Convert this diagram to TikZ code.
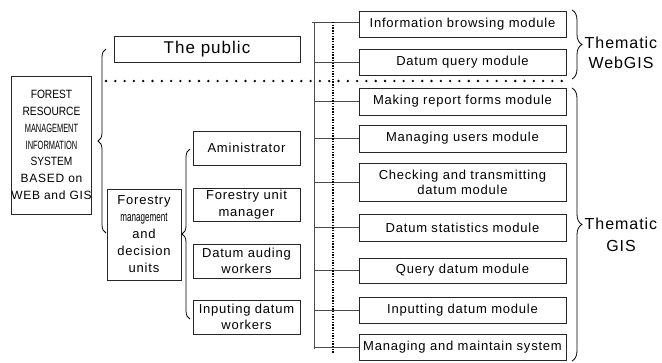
\documentclass[tikz,border=0pt]{standalone}
\usepackage{fontspec}
\setmainfont{Liberation Sans}[LetterSpace=6]
\newfontfamily\narrowA{Liberation Sans}[FakeStretch=0.62]
\newfontfamily\narrowB{Liberation Sans}[FakeStretch=0.85]
\usetikzlibrary{decorations.pathreplacing}
\begin{document}
\begin{tikzpicture}[x=1pt,y=-1pt,
  box/.style={draw=black!85, line width=0.8pt, rectangle, inner sep=0pt, align=center,
    font=\fontsize{13}{16.5}\selectfont},
  modbox/.style={box, minimum width=207pt, minimum height=26pt},
  rolebox/.style={box, minimum width=107pt, minimum height=34pt},
  tie/.style={draw=black!70, line width=0.9pt},
  brc/.style={draw=black, line width=0.8pt, decorate, decoration={brace, amplitude=#1}},
  bigdots/.style={draw=black, line width=2.6pt, line cap=round, dash pattern=on 0pt off 9.3pt},
  smalldots/.style={draw=black, line width=2pt, dash pattern=on 1.4pt off 1.3pt},
  theme/.style={align=center, inner sep=0pt, font=\fontsize{16}{20}\selectfont}]
\useasboundingbox (0,0) rectangle (662,362);

% left system box
\node[box, minimum width=79pt, minimum height=138pt, font=\fontsize{12}{16.8}\selectfont] (sys) at (51.5,145)
  {{\narrowB FOREST}\\{\narrowB RESOURCE}\\{\narrowA MANAGEMENT}\\{\narrowA INFORMATION}\\{\narrowB SYSTEM}\\BASED on\\WEB and GIS};

% users
\node[box, minimum width=186pt, minimum height=26pt, font=\fontsize{17}{20}\selectfont] (pub) at (207,49) {The public};
\node[box, minimum width=74pt, minimum height=91pt, font=\fontsize{13}{17}\selectfont] (fmd) at (144,234.5)
  {Forestry\\{\narrowA management}\\and\\decision\\units};

\node[rolebox] (r1) at (246.5,148) {Aministrator};
\node[rolebox, minimum height=33pt] (r2) at (246.5,204.5) {Forestry unit\\manager};
\node[rolebox] (r3) at (246.5,261) {Datum auding\\workers};
\node[rolebox] (r4) at (246.5,317) {Inputing datum\\workers};

% modules
\node[modbox] (m1) at (462.5,24.5) {Information browsing module};
\node[modbox] (m2) at (462.5,62) {Datum query module};
\node[modbox, minimum height=27pt] (m3) at (462.5,101.5) {Making report forms module};
\node[modbox, minimum height=27pt] (m4) at (462.5,138.5) {Managing users module};
\node[modbox, minimum height=38pt, font=\fontsize{13}{15}\selectfont] (m5) at (462.5,182) {Checking and transmitting\\datum module};
\node[modbox, minimum height=27pt] (m6) at (462.5,227.5) {Datum statistics module};
\node[modbox, minimum height=25pt] (m7) at (462.5,270.5) {Query datum module};
\node[modbox] (m8) at (462.5,310) {Inputting datum module};
\node[modbox] (m9) at (462.5,347) {Managing and maintain system};

% bus
\coordinate (busT) at (314,22);
\coordinate (busB) at (314,349);
\draw[tie] (busT) -- (busB);
\draw[tie] (312,22) -- (m1.west |- 0,22);
\foreach \m in {m2,m3,m4,m5,m6,m7,m8,m9}
  \draw[tie] (busT |- \m.west) -- (\m.west);

% dotted separators
\coordinate (vdT) at (333,22);
\coordinate (vdB) at (333,354);
\draw[smalldots] (vdT) -- (vdB);
\coordinate (hdL) at (106,81);
\coordinate (hdR) at (562,81);
\draw[bigdots] (hdL) -- (hdR);

% braces
\draw[brc=8pt] (106,233) -- (106,49);
\draw[brc=8pt] (190,319) -- (190,149);
\draw[brc=10pt] (572,10) -- (572,79);
\draw[brc=10pt] (572,88) -- (572,361);

\node[theme] (t1) at (621,53) {Thematic\\WebGIS};
\node[theme, font=\fontsize{16}{22}\selectfont] (t2) at (621,235) {Thematic\\GIS};
\end{tikzpicture}
\end{document}
